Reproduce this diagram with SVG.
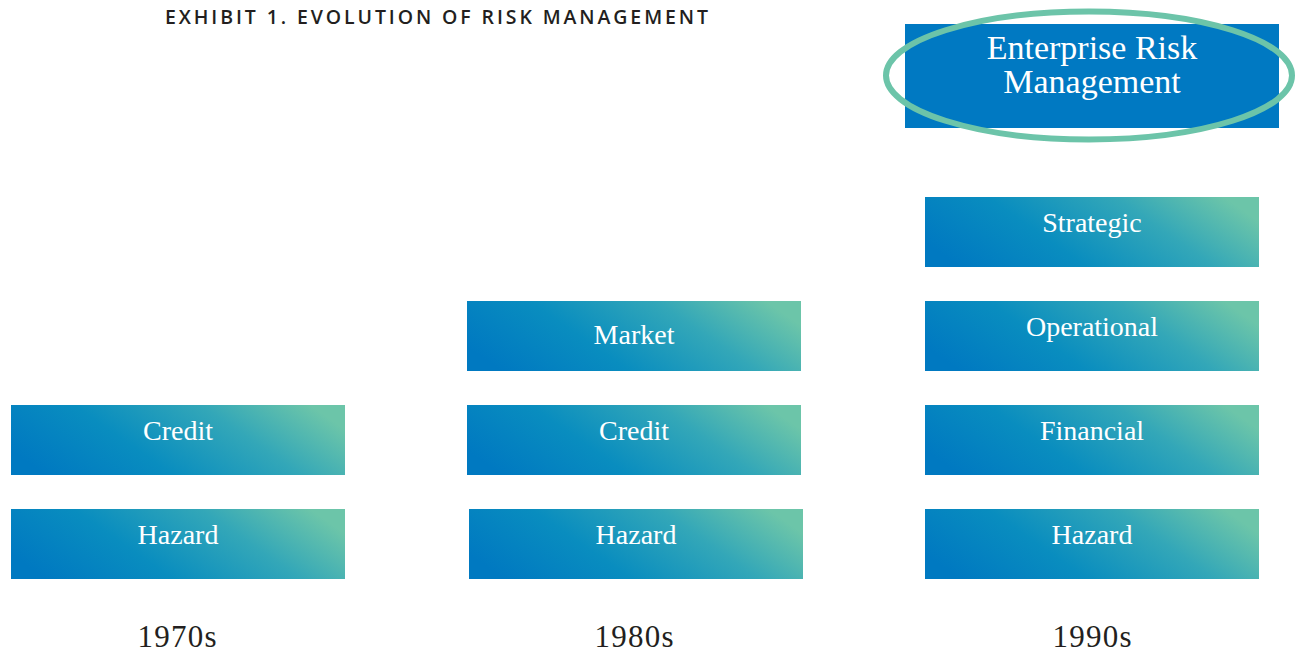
<svg xmlns="http://www.w3.org/2000/svg" width="1296" height="652" viewBox="0 0 1296 652">
<defs>
<linearGradient id="g" x1="0" y1="0.65" x2="1" y2="0.35">
<stop offset="0" stop-color="#0079C1"/>
<stop offset="0.35" stop-color="#098DBF"/>
<stop offset="0.7" stop-color="#33A7B8"/>
<stop offset="1" stop-color="#6CC5A9"/>
</linearGradient>
<style>
.box{fill:url(#g);}
.lbl{font-family:"Liberation Serif","DejaVu Serif",serif;font-size:28px;fill:#ffffff;text-anchor:middle;}
.erm{font-size:34px;}
.yr{font-family:"Liberation Serif","DejaVu Serif",serif;font-size:31px;fill:#231F20;text-anchor:middle;}
.title{font-family:"Open Sans","Lato",sans-serif;font-size:19.5px;font-weight:600;fill:#231F20;}
</style>
</defs>
<rect width="1296" height="652" fill="#ffffff"/>
<text class="title" x="165" y="24" textLength="543" lengthAdjust="spacing">EXHIBIT 1. EVOLUTION OF RISK MANAGEMENT</text>

<g id="erm">
<rect x="905" y="24" width="374" height="104" fill="#0079C2"/>
<ellipse cx="1089" cy="75.5" rx="203" ry="64" fill="none" stroke="#6CC4A9" stroke-width="6"/>
<text class="lbl erm" x="1092" y="59">Enterprise Risk</text>
<text class="lbl erm" x="1092" y="93">Management</text>
</g>

<g id="c1-credit"><rect class="box" x="11" y="405" width="334" height="70"/><text class="lbl" x="178" y="440">Credit</text></g>
<g id="c1-hazard"><rect class="box" x="11" y="509" width="334" height="70"/><text class="lbl" x="178" y="544">Hazard</text></g>

<g id="c2-market"><rect class="box" x="467" y="301" width="334" height="70"/><text class="lbl" x="634" y="344">Market</text></g>
<g id="c2-credit"><rect class="box" x="467" y="405" width="334" height="70"/><text class="lbl" x="634" y="440">Credit</text></g>
<g id="c2-hazard"><rect class="box" x="469" y="509" width="334" height="70"/><text class="lbl" x="636" y="544">Hazard</text></g>

<g id="c3-strategic"><rect class="box" x="925" y="197" width="334" height="70"/><text class="lbl" x="1092" y="232">Strategic</text></g>
<g id="c3-operational"><rect class="box" x="925" y="301" width="334" height="70"/><text class="lbl" x="1092" y="336">Operational</text></g>
<g id="c3-financial"><rect class="box" x="925" y="405" width="334" height="70"/><text class="lbl" x="1092" y="440">Financial</text></g>
<g id="c3-hazard"><rect class="box" x="925" y="509" width="334" height="70"/><text class="lbl" x="1092" y="544">Hazard</text></g>

<g id="years">
<text class="yr" x="177" y="647" textLength="79" lengthAdjust="spacing">1970s</text>
<text class="yr" x="634" y="647" textLength="79" lengthAdjust="spacing">1980s</text>
<text class="yr" x="1092" y="647" textLength="79" lengthAdjust="spacing">1990s</text>
</g>
<g id="connectors"/>
</svg>
